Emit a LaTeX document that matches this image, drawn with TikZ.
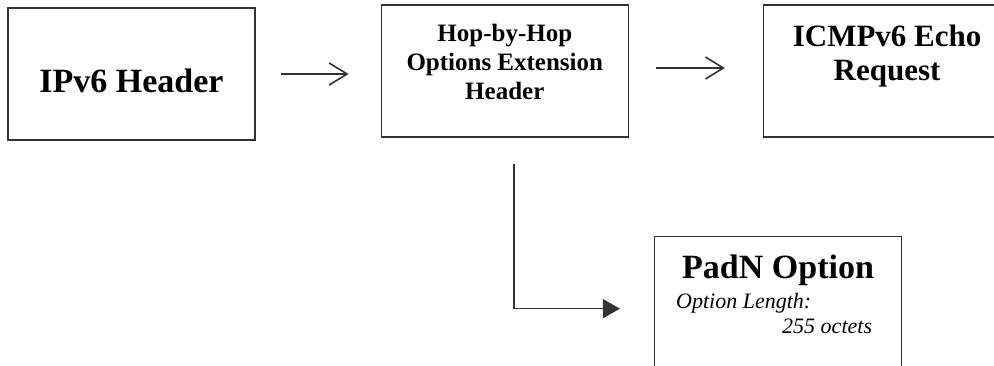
\documentclass[tikz,border=0pt]{standalone}
\usepackage{fontspec}
\setmainfont{Liberation Serif}
\usetikzlibrary{arrows.meta,positioning}
\definecolor{boxline}{HTML}{333333}

\begin{document}
\begin{tikzpicture}[
    x=1pt, y=-1pt,
    box/.style={draw=boxline, line width=1.3pt, minimum width=247pt, minimum height=132pt, inner sep=0pt},
    headtext/.style={align=center, inner sep=0pt},
    flow/.style={-{Straight Barb[length=18pt,width=22pt,line width=1.6pt]}, line width=1.4pt, draw=boxline},
    branch/.style={-{Triangle[length=17pt,width=19pt]}, line width=1.4pt, draw=boxline}
  ]
  \useasboundingbox (0,0) rectangle (994,365);
  \clip (0,0) rectangle (994,365);
  % boxes
  \node[box] (ipv) at (131.5,74) {};
  \node[box, right=125pt of ipv, yshift=3pt] (hbh) {};
  \node[box, right=134pt of hbh] (icmp) {};
  \node[box, minimum height=150pt, below right=98pt and 25pt of hbh.south east] (padn) {};
  % texts
  \node[headtext, font=\bfseries\fontsize{34}{40}\selectfont, anchor=base] (ipvtext) at ([yshift=-18pt]ipv.center) {IPv6 Header};
  \node[headtext, font=\bfseries\fontsize{25}{29}\selectfont, anchor=north] (hbhtext) at ([yshift=-20pt]hbh.north) {Hop-by-Hop\\Options Extension\\Header};
  \node[headtext, font=\bfseries\fontsize{31}{34}\selectfont, anchor=north] (icmptext) at ([yshift=-20pt]icmp.north) {ICMPv6 Echo\\Request};
  \node[headtext, font=\bfseries\fontsize{34}{40}\selectfont, anchor=base] (padntext) at ([yshift=-43pt]padn.north) {PadN Option};
  \node[headtext, font=\itshape\fontsize{22}{25}\selectfont, anchor=base west] (lentext) at ([xshift=22pt,yshift=-73pt]padn.north west) {Option Length:};
  \node[headtext, font=\itshape\fontsize{22}{25}\selectfont, anchor=base east] (octtext) at ([xshift=-30pt,yshift=-98pt]padn.north east) {255 octets};
  % connectors
  \draw[flow] ([xshift=25pt]ipv.east) -- ([xshift=-32pt]hbh.west |- ipv.east);
  \draw[flow] ([xshift=27pt,yshift=3pt]hbh.east) -- ([xshift=-38pt,yshift=3pt]icmp.west |- hbh.east);
  \draw[branch] ([xshift=9pt,yshift=-26pt]hbh.south) |- ([xshift=-34pt,yshift=-73pt]padn.north west);
\end{tikzpicture}
\end{document}
